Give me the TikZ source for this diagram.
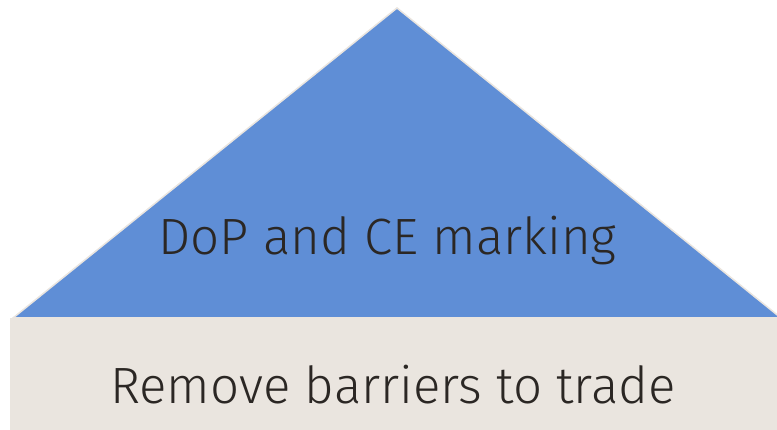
\documentclass[tikz,border=0pt]{standalone}
\usepackage{fontspec}
\setmainfont{Fira Sans Light}
\definecolor{tri}{HTML}{5F8ED6}
\definecolor{base}{HTML}{EAE5DF}
\definecolor{ink}{HTML}{2B2724}
\tikzset{lbl/.style={text=ink, font=\fontsize{51}{60}\selectfont, inner sep=0pt, anchor=base}}
\begin{document}
\begin{tikzpicture}[x=1pt,y=1pt]
\useasboundingbox (0,0) rectangle (777,430);
\clip (0,0) rectangle (777,430);
\fill[white] (0,0) rectangle (777,430);
\fill[base] (10,0) rectangle (777,112);
\filldraw[fill=tri, draw=base, line width=1.5pt] (13,112) -- (397,422) -- (781,112) -- cycle;
\node[lbl] (top) at (387.5,175) {DoP and CE marking};
\node[lbl] (bot) at (393,26) {Remove barriers to trade};
\end{tikzpicture}
\end{document}
